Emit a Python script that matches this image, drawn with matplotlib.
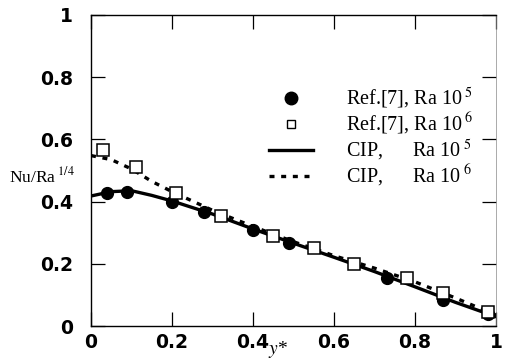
import matplotlib
matplotlib.use("Agg")
import matplotlib.pyplot as plt
from matplotlib.lines import Line2D

# Reference data (Ref.[7])
ref_ra5_x = [0.04, 0.09, 0.20, 0.28, 0.40, 0.49, 0.73, 0.87, 0.98]
ref_ra5_y = [0.427, 0.430, 0.400, 0.367, 0.309, 0.266, 0.155, 0.082, 0.040]
ref_ra6_x = [0.03, 0.11, 0.21, 0.32, 0.45, 0.55, 0.65, 0.78, 0.87, 0.98]
ref_ra6_y = [0.565, 0.512, 0.427, 0.354, 0.290, 0.250, 0.200, 0.153, 0.105, 0.045]

# CIP results
cip_x = [0.0, 0.05, 0.10, 0.15, 0.20, 0.30, 0.40, 0.50, 0.60, 0.70, 0.80, 0.90, 1.0]
cip_ra5_y = [0.418, 0.432, 0.435, 0.420, 0.402, 0.360, 0.312, 0.266, 0.221, 0.175, 0.126, 0.076, 0.030]
cip_ra6_y = [0.548, 0.535, 0.505, 0.465, 0.432, 0.372, 0.320, 0.271, 0.226, 0.186, 0.142, 0.090, 0.035]

xticks = [0, 0.2, 0.4, 0.6, 0.8, 1]
xticklabels = ["0", "0.2", "0.4", "0.6", "0.8", "1"]
yticks = [0, 0.2, 0.4, 0.6, 0.8, 1]
yticklabels = ["0", "0.2", "0.4", "0.6", "0.8", "1"]

labels = ["Ref.[7], Ra 10$^{\\ 5}$", "Ref.[7], Ra 10$^{\\ 6}$",
          "CIP,      Ra 10$^{\\ 5}$", "CIP,      Ra 10$^{\\ 6}$"]

plt.rcParams['mathtext.fontset'] = 'stix'

fig = plt.figure(figsize=(5.06, 3.61), dpi=100)
ax = fig.add_axes([91/506, 1-326/361, 405/506, 311/361])

ax.plot(cip_x, cip_ra5_y, color='black', lw=2.4, ls='-')
ax.plot(cip_x, cip_ra6_y, color='black', lw=2.4, ls=(0, (1.5, 2.0)))
ax.plot(ref_ra5_x, ref_ra5_y, 'o', color='black', ms=8.5, ls='none')
ax.plot(ref_ra6_x, ref_ra6_y, 's', mfc='white', mec='black', mew=1.1, ms=8, ls='none')

ax.set_xlim(0, 1)
ax.set_ylim(0, 1)
ax.set_xticks(xticks)
ax.set_xticklabels(xticklabels)
ax.set_yticks(yticks)
ax.set_yticklabels(yticklabels)
ax.tick_params(direction='in', length=10, width=0.9, top=True, right=True,
               labelsize=13.5)
ax.tick_params(axis='y', pad=13)
ax.tick_params(axis='x', pad=5)
for lab in ax.get_xticklabels() + ax.get_yticklabels():
    lab.set_fontweight('bold')
    lab.set_family('DejaVu Sans')
for s in ax.spines.values():
    s.set_linewidth(1.0)
ax.spines['right'].set_linewidth(0.5)
ax.spines['right'].set_color('#888888')

handles = [
    Line2D([], [], marker='o', color='black', ls='none', ms=9),
    Line2D([], [], marker='s', mfc='white', mec='black', ls='none', ms=6, mew=1.0),
    Line2D([], [], color='black', lw=2.4, ls='-'),
    Line2D([], [], color='black', lw=2.4, ls=(0, (1.5, 2.0))),
]
leg = ax.legend(handles, labels, loc='upper left', bbox_to_anchor=(0.415, 0.805),
                frameon=False, handlelength=2.2, handletextpad=1.6,
                labelspacing=0.02, borderpad=0,
                prop={'family': 'Liberation Serif', 'size': 14.5})

fig.text(9/506, 1-182/361, "Nu/Ra$^{\\ 1/4}$", family='Liberation Serif',
         fontsize=12.5, ha='left', va='baseline')
fig.text(278/506, 1-354/361, "$y$*", family='Liberation Serif', fontsize=14,
         ha='center', va='baseline')

fig.savefig("out.png", dpi=100)
